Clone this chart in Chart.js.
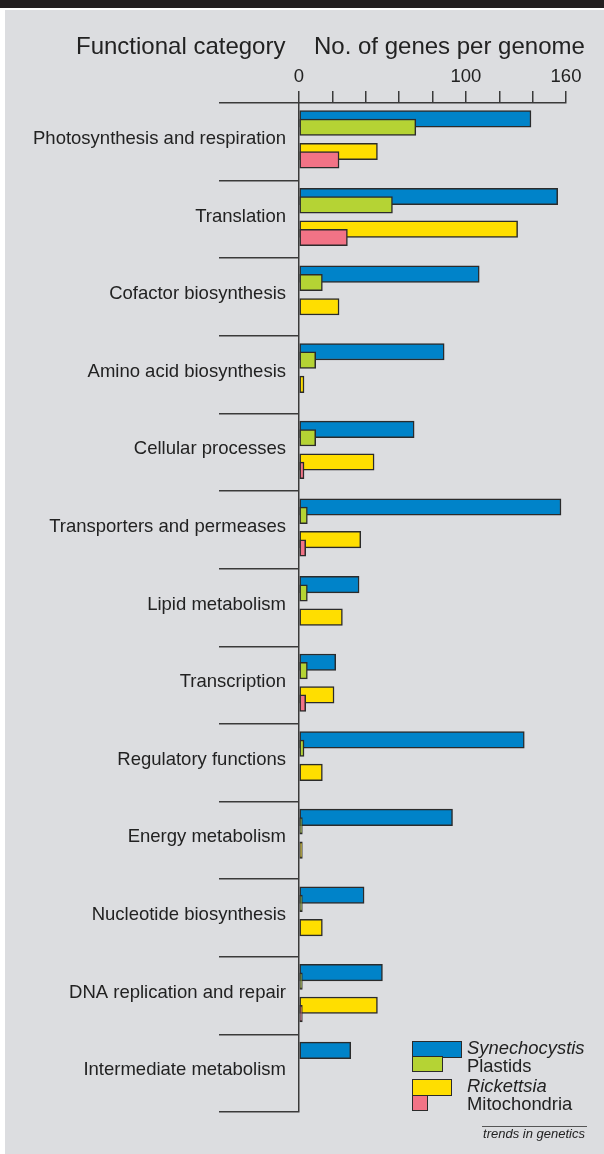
<!DOCTYPE html>
<html>
<head>
<meta charset="utf-8">
<script src="https://cdn.jsdelivr.net/npm/chart.js@4.4.0/dist/chart.umd.min.js"></script>
<style>
body { margin: 0; background: #fff; font-family: "Liberation Sans", Arial, sans-serif; color: #222; }
#page { position: relative; width: 604px; height: 1154px; overflow: hidden; }
#topbar { position: absolute; left: 0; top: 0; width: 604px; height: 8px; background: #231f20; }
#panel { position: absolute; left: 5px; top: 10px; width: 599px; height: 1144px; background: #dcdde0; }
canvas { position: absolute; left: 0; top: 0; }
.t { position: absolute; white-space: nowrap; }
.head { font-size: 24px; line-height: 24px; top: 34px; }
.leg { font-size: 18.4px; line-height: 18.4px; left: 467px; }
.sw { position: absolute; box-sizing: border-box; border: 1.5px solid #2b2b2b; left: 412px; height: 16.5px; }
</style>
</head>
<body>
<div id="page">
  <div id="topbar"></div>
  <div id="panel"></div>
  <canvas id="chart" width="604" height="1154"></canvas>

  <div class="t head" style="left:76px">Functional category</div>
  <div class="t head" style="left:314px">No. of genes per genome</div>

  <div class="sw" style="top:1041px; width:50px; background:#0083c9"></div>
  <div class="sw" style="top:1055.5px; width:31px; background:#b5d334"></div>
  <div class="sw" style="top:1079px; width:40px; background:#ffde00"></div>
  <div class="sw" style="top:1094.5px; width:16px; background:#f27386"></div>
  <div class="t leg" style="top:1039px; font-style:italic">Synechocystis</div>
  <div class="t leg" style="top:1057px">Plastids</div>
  <div class="t leg" style="top:1077px; font-style:italic">Rickettsia</div>
  <div class="t leg" style="top:1095px">Mitochondria</div>

  <div style="position:absolute; left:482px; top:1125.5px; width:105px; height:1px; background:#555"></div>
  <div class="t" style="right:19px; top:1127px; font-size:13px; line-height:13px; font-style:italic">trends in genetics</div>
</div>

<script>
const categories = [
  'Photosynthesis and respiration',
  'Translation',
  'Cofactor biosynthesis',
  'Amino acid biosynthesis',
  'Cellular processes',
  'Transporters and permeases',
  'Lipid metabolism',
  'Transcription',
  'Regulatory functions',
  'Energy metabolism',
  'Nucleotide biosynthesis',
  'DNA replication and repair',
  'Intermediate metabolism'
];
const synechocystis = [139, 155, 108, 87, 69, 157, 36, 22, 135, 92, 39, 50, 31];
const plastids = [70, 56, 14, 10, 10, 5, 5, 5, 3, 2, 2, 2, null];
const rickettsia = [47, 131, 24, 3, 45, 37, 26, 21, 14, 2, 14, 47, null];
const mitochondria = [24, 29, null, null, 3, 4, null, 4, null, null, null, 2, null];
const xTickLabels = [0, 100, 160];

// each category is one band; the four bars sit at fixed fractions inside it
function rows(values, offset) {
  return values
    .map((v, i) => ({ x: v, y: i + offset }))
    .filter(p => p.x !== null);
}

const lineCol = '#3a3a3a';
const ctx = document.getElementById('chart').getContext('2d');
Chart.defaults.font.family = '"Liberation Sans", Arial, sans-serif';
Chart.defaults.color = '#222';

new Chart(ctx, {
  type: 'bar',
  data: {
    datasets: [
      { label: 'Synechocystis', data: rows(synechocystis, 0.205), backgroundColor: '#0083c9', order: 2 },
      { label: 'Plastids', data: rows(plastids, 0.313), backgroundColor: '#b5d334', order: 1 },
      { label: 'Rickettsia', data: rows(rickettsia, 0.625), backgroundColor: '#ffde00', order: 2 },
      { label: 'Mitochondria', data: rows(mitochondria, 0.733), backgroundColor: '#f27386', order: 1 }
    ]
  },
  options: {
    indexAxis: 'y',
    responsive: false,
    animation: false,
    datasets: {
      bar: {
        grouped: false,
        barThickness: 16.5,
        borderWidth: 1.5,
        borderColor: '#2b2b2b',
        borderSkipped: false
      }
    },
    layout: { padding: { left: 0, right: 38, top: 0, bottom: 42 } },
    plugins: {
      legend: { display: false },
      tooltip: { enabled: false }
    },
    scales: {
      x: {
        type: 'linear',
        position: 'top',
        min: 0,
        max: 160,
        afterFit: s => { s.height = 103; },
        ticks: {
          stepSize: 20,
          autoSkip: false,
          padding: 3,
          maxRotation: 0,
          font: { size: 18.5 },
          callback: v => xTickLabels.includes(v) ? String(v) : ''
        },
        grid: { drawOnChartArea: false, tickLength: 12, color: lineCol, lineWidth: 1.5 },
        border: { color: lineCol, width: 1.5 }
      },
      y: {
        type: 'linear',
        position: 'left',
        min: 0,
        max: categories.length,
        reverse: true,
        offset: false,
        afterFit: s => { s.width = 299; },
        afterBuildTicks: s => { s.ticks = categories.map((c, i) => ({ value: i + 0.5 })); },
        ticks: {
          autoSkip: false,
          padding: -67,
          labelOffset: -3,
          font: { size: 18.5 },
          callback: v => categories[Math.floor(v)]
        },
        grid: { offset: true, drawOnChartArea: false, tickLength: 80, color: lineCol, lineWidth: 1.5 },
        border: { color: lineCol, width: 1.5 }
      }
    }
  }
});
</script>
</body>
</html>
